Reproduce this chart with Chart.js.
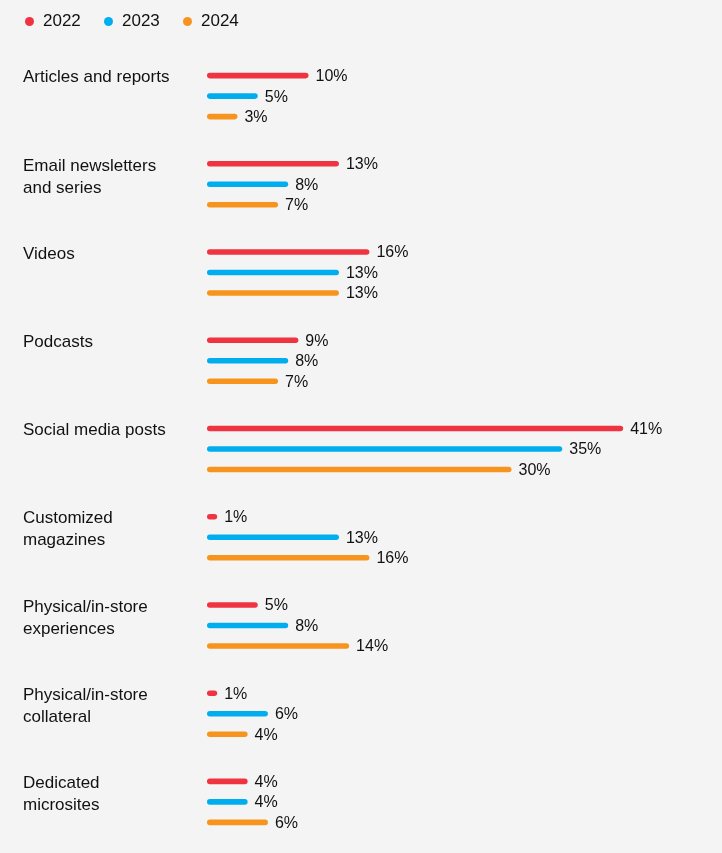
<!DOCTYPE html>
<html>
<head>
<meta charset="utf-8">
<script src="https://cdn.jsdelivr.net/npm/chart.js@4.4.1/dist/chart.umd.min.js"></script>
<style>
  html, body { margin: 0; padding: 0; background: #f4f4f4; }
  #wrap { position: relative; width: 722px; height: 853px; }
  #legend {
    position: absolute; left: 25px; top: 11px; display: flex;
    font: 17px "Liberation Sans", Arial, sans-serif; color: #111;
  }
  #legend .item { width: 79px; display: flex; align-items: center; }
  #legend .dot { width: 9px; height: 9px; border-radius: 50%; margin-right: 9px; }
</style>
</head>
<body>
<div id="wrap">
  <div id="legend"></div>
  <canvas id="chart" width="722" height="853"></canvas>
</div>
<script>
  /* ---------- data ---------- */
  const categories = [
    ["Articles and reports"],
    ["Email newsletters", "and series"],
    ["Videos"],
    ["Podcasts"],
    ["Social media posts"],
    ["Customized", "magazines"],
    ["Physical/in-store", "experiences"],
    ["Physical/in-store", "collateral"],
    ["Dedicated", "microsites"]
  ];
  const years = ["2022", "2023", "2024"];
  const values2022 = [10, 13, 16, 9, 41, 1, 5, 1, 4];
  const values2023 = [5, 8, 13, 8, 35, 13, 8, 6, 4];
  const values2024 = [3, 7, 13, 7, 30, 16, 14, 4, 6];
  const colors = ["#ef3340", "#00aeef", "#f7941d"];

  const FONT = '"Liberation Sans", Arial, sans-serif';
  const TEXT = "#111";

  /* ---------- legend (html) ---------- */
  const legendEl = document.getElementById("legend");
  years.forEach((y, i) => {
    const item = document.createElement("div");
    item.className = "item";
    item.innerHTML = `<span class="dot" style="background:${colors[i]}"></span><span>${y}</span>`;
    legendEl.appendChild(item);
  });

  /* ---------- labels plugin ---------- */
  const labelPlugin = {
    id: "labels",
    afterDatasetsDraw(chart) {
      const ctx = chart.ctx;
      ctx.save();
      ctx.fillStyle = TEXT;
      ctx.textBaseline = "middle";
      ctx.textAlign = "left";

      // value labels at bar ends
      ctx.font = "16px " + FONT;
      chart.data.datasets.forEach((ds, di) => {
        chart.getDatasetMeta(di).data.forEach((bar, i) => {
          ctx.fillText(ds.data[i] + "%", bar.x + 7, bar.y + 1);
        });
      });

      // category labels, top line next to first bar
      ctx.font = "17px " + FONT;
      const first = chart.getDatasetMeta(0).data;
      categories.forEach((lines, i) => {
        lines.forEach((line, j) => {
          ctx.fillText(line, 23, first[i].y + 2 + j * 22);
        });
      });
      ctx.restore();
    }
  };

  /* ---------- chart ---------- */
  const ctx = document.getElementById("chart").getContext("2d");
  new Chart(ctx, {
    type: "bar",
    data: {
      labels: categories.map(c => c.join(" ")),
      datasets: [
        { label: years[0], data: values2022, backgroundColor: colors[0] },
        { label: years[1], data: values2023, backgroundColor: colors[1] },
        { label: years[2], data: values2024, backgroundColor: colors[2] }
      ]
    },
    options: {
      indexAxis: "y",
      responsive: false,
      animation: false,
      layout: { padding: { left: 207, right: 7.5, top: 52, bottom: 7 } },
      datasets: {
        bar: {
          categoryPercentage: 0.697,
          barPercentage: 0.27,
          borderRadius: 3,
          borderSkipped: false
        }
      },
      plugins: {
        legend: { display: false },
        tooltip: { enabled: false }
      },
      scales: {
        x: { display: false, min: 0, max: 50 },
        y: { display: false }
      }
    },
    plugins: [labelPlugin]
  });
</script>
</body>
</html>
